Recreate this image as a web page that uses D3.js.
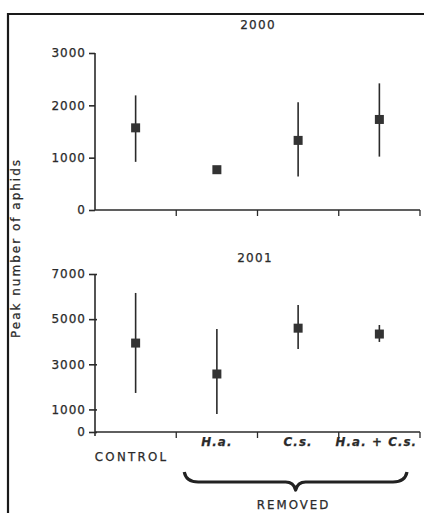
<!DOCTYPE html>
<html><head><meta charset="utf-8">
<script src="https://cdn.jsdelivr.net/npm/d3@7"></script>
<style>
body{margin:0;background:#fff;}
svg{display:block;}
text{font-family:"DejaVu Sans",sans-serif;fill:#2a2a2a;stroke:#2a2a2a;stroke-width:0.25px;}
</style></head>
<body>
<svg id="c" width="424" height="513"></svg>
<script>
const categories = ["CONTROL", "H.a.", "C.s.", "H.a. + C.s."];
const years = ["2000", "2001"];
const mean2000 = [1570, 770, 1330, 1730];
const low2000  = [920, null, 640, 1020];
const high2000 = [2190, null, 2060, 2420];
const mean2001 = [3940, 2570, 4600, 4340];
const low2001  = [1730, 800, 3680, 3990];
const high2001 = [6160, 4560, 5630, 4740];
const ticks2000 = [0, 1000, 2000, 3000];
const ticks2001 = [0, 1000, 3000, 5000, 7000];
const yLabel = "Peak number of aphids";
const groupLabel = "REMOVED";

const ink = "#2a2a2a";
const svg = d3.select("#c");

// frame
svg.append("path").attr("d","M8,513V14H424").attr("fill","none").attr("stroke","#1a1a1a").attr("stroke-width",2.2);

const x = d3.scaleBand().domain(categories).range([95, 420]).padding(0);

const panels = [
  {title: years[0], mean: mean2000, low: low2000, high: high2000, ticks: ticks2000, max: 3000, y0: 210, y1: 53, titleY: 29, titleX: 258},
  {title: years[1], mean: mean2001, low: low2001, high: high2001, ticks: ticks2001, max: 7000, y0: 432, y1: 274, titleY: 262, titleX: 255}
];

panels.forEach((p, pi) => {
  const y = d3.scaleLinear().domain([0, p.max]).range([p.y0, p.y1]);
  const g = svg.append("g");
  const ya = d3.axisLeft(y).tickValues(p.ticks).tickSize(6).tickPadding(3).tickFormat(d3.format("d"));
  const yg = g.append("g").attr("transform", `translate(${x.range()[0]},0)`).call(ya);
  yg.select(".domain").attr("d", `M0,${p.y1}V${p.y0 + (pi===1?4:0)}`);
  yg.selectAll("line").attr("x1",-6).attr("x2",pi===1?2:0);
  const xg = g.append("g").attr("transform", `translate(0,${p.y0})`);
  xg.append("line").attr("x1", x.range()[0]).attr("x2", x.range()[1]).attr("stroke", ink).attr("stroke-width", 1.6);
  xg.selectAll("line.tk").data(categories).join("line").attr("class","tk")
    .attr("x1", d => x(d) + x.bandwidth()).attr("x2", d => x(d) + x.bandwidth())
    .attr("y1", 0).attr("y2", 6).attr("stroke", ink).attr("stroke-width", 1.3);
  yg.selectAll(".domain, line").attr("stroke", ink).attr("stroke-width", 1.6);
  yg.selectAll("text").attr("font-size", 12).attr("letter-spacing", 1).attr("fill", ink)
    .style("font-family", '"DejaVu Sans",sans-serif');
  g.append("text").attr("x", p.titleX).attr("y", p.titleY).attr("text-anchor","middle")
    .attr("font-size", 12).attr("letter-spacing", 1.3).text(p.title);
  categories.forEach((c, i) => {
    const cx = x(c) + x.bandwidth()/2;
    if (p.low[i] != null) {
      g.append("line").attr("x1", cx).attr("x2", cx).attr("y1", y(p.low[i])).attr("y2", y(p.high[i]))
        .attr("stroke", ink).attr("stroke-width", 1.6);
    }
    g.append("rect").attr("x", cx - 4.5).attr("y", y(p.mean[i]) - 4.5).attr("width", 9).attr("height", 9).attr("fill", "#333");
  });
});

categories.forEach((c, i) => {
  const cx = x(c) + x.bandwidth()/2;
  const t = svg.append("text").attr("text-anchor","middle").text(c);
  if (i === 0) {
    t.attr("x", cx - 4).attr("y", 461).attr("font-size", 11.8).attr("letter-spacing", 2.3);
  } else {
    t.attr("x", cx - (i===3?3:0)).attr("y", 446).attr("font-size", 11.8).attr("font-weight","bold")
     .attr("font-style","italic").attr("letter-spacing", 1.1);
  }
});

const bx0 = x(categories[1]) + 8, bx1 = x.range()[1] - 13, bm = (bx0 + bx1) / 2;
const bt = 472, bb = 482, tip = 490;
const brace = `M${bx0},${bt} Q${bx0+2},${bb} ${bx0+14},${bb} L${bm-10},${bb} Q${bm-2},${bb} ${bm},${tip} Q${bm+2},${bb} ${bm+10},${bb} L${bx1-14},${bb} Q${bx1-2},${bb} ${bx1},${bt}`;
svg.append("path").attr("d", brace).attr("fill","none").attr("stroke", "#222").attr("stroke-width", 3.2).attr("stroke-linejoin","round");
svg.append("text").attr("x", bm - 2).attr("y", 509).attr("text-anchor","middle")
  .attr("font-size", 11.8).attr("letter-spacing", 2).text(groupLabel);

svg.append("text").attr("transform","translate(20,248) rotate(-90)").attr("text-anchor","middle")
  .attr("font-size", 12).attr("letter-spacing", 2).text(yLabel);
</script>
</body></html>
